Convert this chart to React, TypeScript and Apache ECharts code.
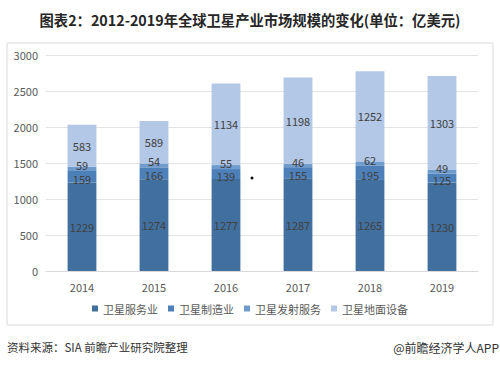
import React, { useEffect, useRef } from "react";
import * as echarts from "echarts";

const years = ["2014", "2015", "2016", "2017", "2018", "2019"];
const seriesNames = ["卫星服务业", "卫星制造业", "卫星发射服务", "卫星地面设备"];
const serviceValues = [1229, 1274, 1277, 1287, 1265, 1230];
const manufacturingValues = [159, 166, 139, 155, 195, 125];
const launchValues = [59, 54, 55, 46, 62, 49];
const groundValues = [583, 589, 1134, 1198, 1252, 1303];
const colors = ["#41709f", "#4d80b9", "#6f9bcd", "#b3c7e6"];
const labelOffsets = [0, 2, -4, 0];

const titleText = "图表2：2012-2019年全球卫星产业市场规模的变化(单位：亿美元)";
const sourceText = "资料来源：SIA 前瞻产业研究院整理";
const brandText = "@前瞻经济学人APP";

export default function App() {
  const ref = useRef<HTMLDivElement>(null);
  useEffect(() => {
    if (!ref.current) return;
    const chart = echarts.init(ref.current, null, { renderer: "svg" });
    const data = [serviceValues, manufacturingValues, launchValues, groundValues];
    const font = "'Microsoft YaHei', 'Noto Sans CJK SC', sans-serif";
    chart.setOption({
      animation: false,
      backgroundColor: "#ffffff",
      textStyle: { fontFamily: font },
      grid: { left: 46, right: 22, top: 55, bottom: 94 },
      legend: {
        top: 298,
        left: "center",
        itemWidth: 6,
        itemHeight: 6,
        itemGap: 10,
        icon: "rect",
        textStyle: { color: "#595959", fontSize: 11, fontFamily: font },
        data: seriesNames,
      },
      xAxis: {
        type: "category",
        data: years,
        axisLine: { lineStyle: { color: "#d9d9d9" } },
        axisTick: { show: false },
        axisLabel: { color: "#595959", fontSize: 11, margin: 10 },
      },
      yAxis: {
        type: "value",
        min: 0,
        max: 3000,
        interval: 500,
        axisLine: { show: false },
        axisTick: { show: false },
        axisLabel: {
          color: "#595959",
          fontSize: 11,
          margin: 8,
          formatter: (v: number) => String(v),
        },
        splitLine: { lineStyle: { color: "#e3e3e3" } },
      },
      series: seriesNames.map((name, i) => ({
        name,
        type: "bar",
        stack: "total",
        barWidth: "40%",
        data: data[i],
        itemStyle: { color: colors[i] },
        label: {
          show: true,
          position: "inside",
          color: "#404040",
          fontSize: 11,
          offset: [0, labelOffsets[i]],
        },
      })),
      graphic: [
        {
          type: "rect",
          shape: { x: 7, y: 43, width: 486, height: 282 },
          style: { fill: "none", stroke: "#d9d9d9", lineWidth: 1 },
          z: -1,
        },
        {
          type: "text",
          x: 250,
          y: 19,
          style: {
            text: titleText,
            fill: "#262626",
            font: `bold 14.3px ${font}`,
            textAlign: "center",
            textVerticalAlign: "middle",
          },
        },
        {
          type: "text",
          x: 7,
          y: 347,
          style: {
            text: sourceText,
            fill: "#333333",
            font: `11.5px ${font}`,
            textAlign: "left",
            textVerticalAlign: "middle",
          },
        },
        {
          type: "text",
          x: 499,
          y: 347,
          style: {
            text: brandText,
            fill: "#333333",
            font: `12px ${font}`,
            textAlign: "right",
            textVerticalAlign: "middle",
          },
        },
        {
          type: "circle",
          shape: { cx: 252, cy: 178, r: 1.5 },
          style: { fill: "#111111" },
        },
      ],
    });
    return () => chart.dispose();
  }, []);
  return (
    <div
      ref={ref}
      style={{ width: 500, height: 365, position: "absolute", left: 0, top: 0 }}
    />
  );
}
